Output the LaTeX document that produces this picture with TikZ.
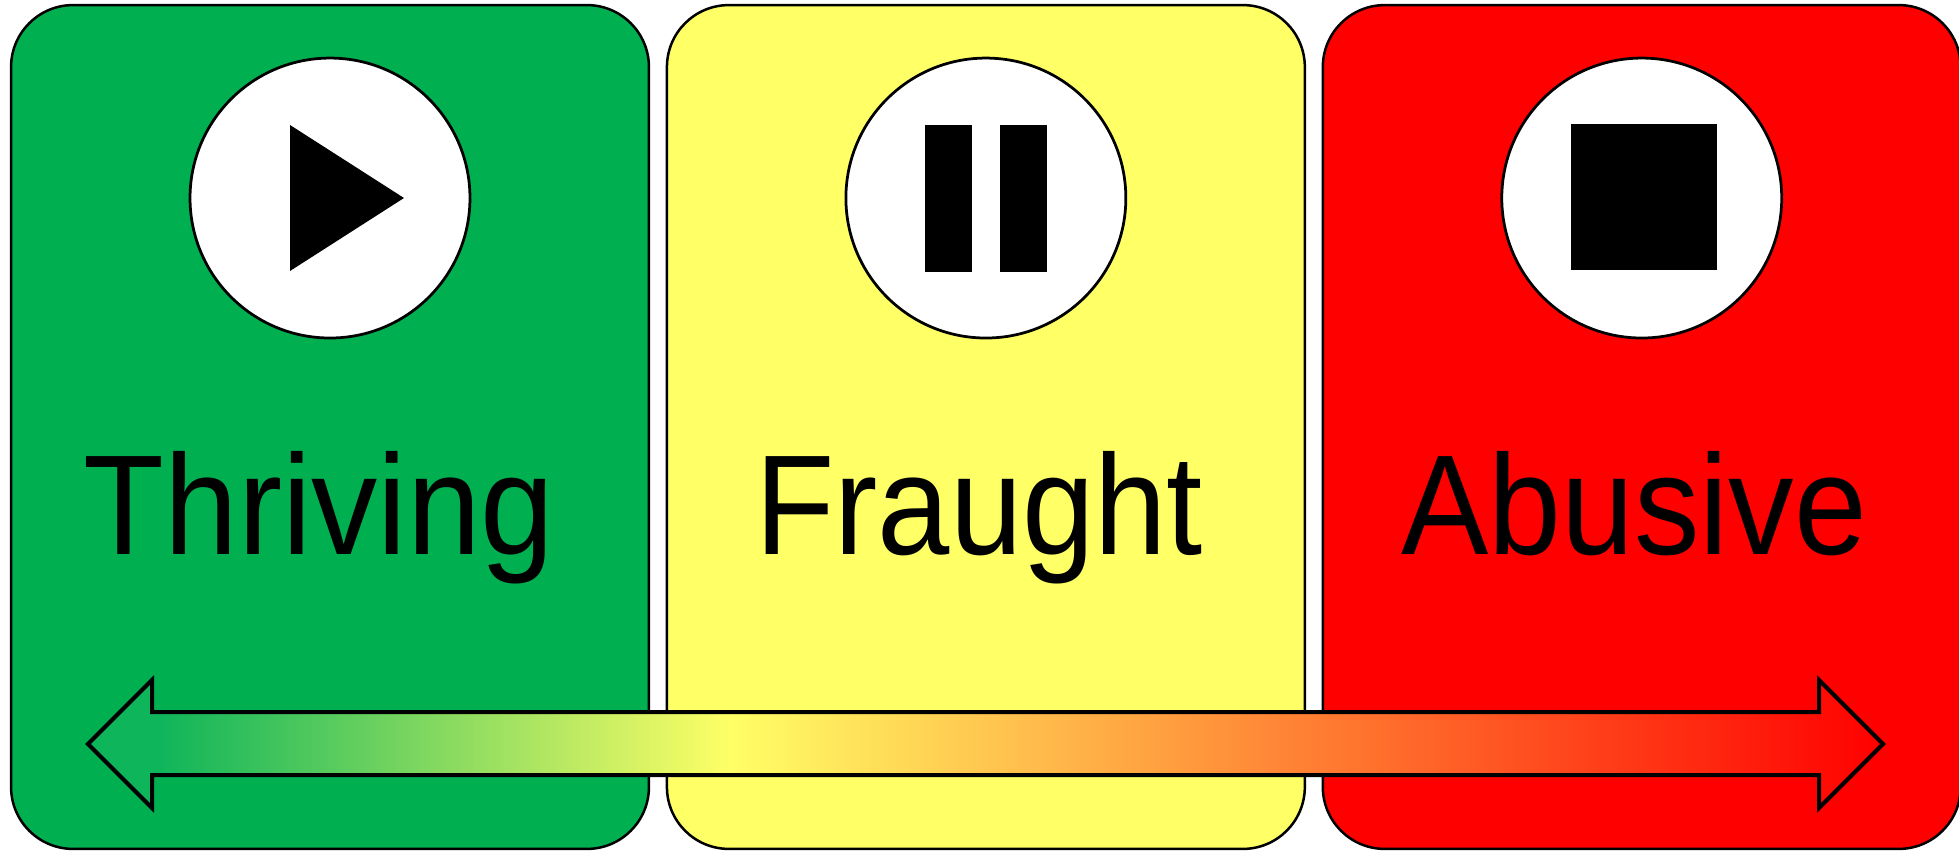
\documentclass[tikz,border=0pt]{standalone}
\usepackage{fontspec}
\setmainfont{Liberation Sans}
\usepackage{tikz}
\usetikzlibrary{positioning}
\definecolor{thrivegreen}{RGB}{0,176,80}
\definecolor{fraughtyellow}{RGB}{255,255,102}
\definecolor{abusivered}{RGB}{255,0,0}
\pgfdeclarehorizontalshading{barshade}{100bp}{
  color(0bp)=(thrivegreen!94!white); color(27bp)=(thrivegreen!94!white);
  color(42.9bp)=(fraughtyellow); color(75bp)=(abusivered); color(100bp)=(abusivered)}

\begin{document}
\begin{tikzpicture}[
  x=0.02cm, y=-0.02cm,
  node distance=0.36cm,
  cardbox/.style={draw, line width=0.05cm, outer sep=0pt, rounded corners=1.24cm, minimum width=12.76cm, minimum height=16.88cm, inner sep=0pt},
  dial/.style={draw, circle, line width=0.055cm, outer sep=0pt, fill=white, minimum size=5.6cm, inner sep=0pt},
  cardlabel/.style={anchor=base, inner sep=0pt, font=\fontsize{81}{84}\selectfont},
  pausebar/.style={fill=black, minimum width=0.94cm, minimum height=2.94cm, inner sep=0pt},
  stopsquare/.style={fill=black, minimum size=2.92cm, inner sep=0pt},
  scalebar/.style={draw, line width=0.08cm, miter limit=10, shading=barshade},
]
  \useasboundingbox (0,0) rectangle (1959,851);

  % Cards
  \node (thrivebox) [cardbox, fill=thrivegreen] at (330,427) {};
  \node (fraughtbox) [cardbox, fill=fraughtyellow, right=of thrivebox] {};
  \node (abusivebox) [cardbox, fill=abusivered, right=of fraughtbox] {};

  % Dials
  \node (thrivedial) [dial, below=1.06cm of thrivebox.north] {};
  \node (fraughtdial) [dial, below=1.06cm of fraughtbox.north] {};
  \node (abusivedial) [dial, below=1.06cm of abusivebox.north] {};

  % Icons
  \fill (290,125) -- (404,198) -- (290,271) -- cycle;
  \node (pauseleft) [pausebar, xshift=-0.75cm] at (fraughtdial) {};
  \node (pauseright) [pausebar, xshift=0.75cm] at (fraughtdial) {};
  \node (stopicon) [stopsquare, xshift=0.04cm, yshift=0.02cm] at (abusivedial) {};

  % Labels
  \node (thrivelabel) [cardlabel, xscale=0.93] at (319,554) {Thriving};
  \node (fraughtlabel) [cardlabel, xscale=0.913] at (979,554) {Fraught};
  \node (abusivelabel) [cardlabel, xscale=0.92] at (1634,554) {Abusive};

  % Scale arrow
  \draw [scalebar] (88,744) -- (152,680) -- (152,712) -- (1819,712) -- (1819,680)
    -- (1883,744) -- (1819,808) -- (1819,775) -- (152,775) -- (152,808) -- cycle;

\end{tikzpicture}
\end{document}
